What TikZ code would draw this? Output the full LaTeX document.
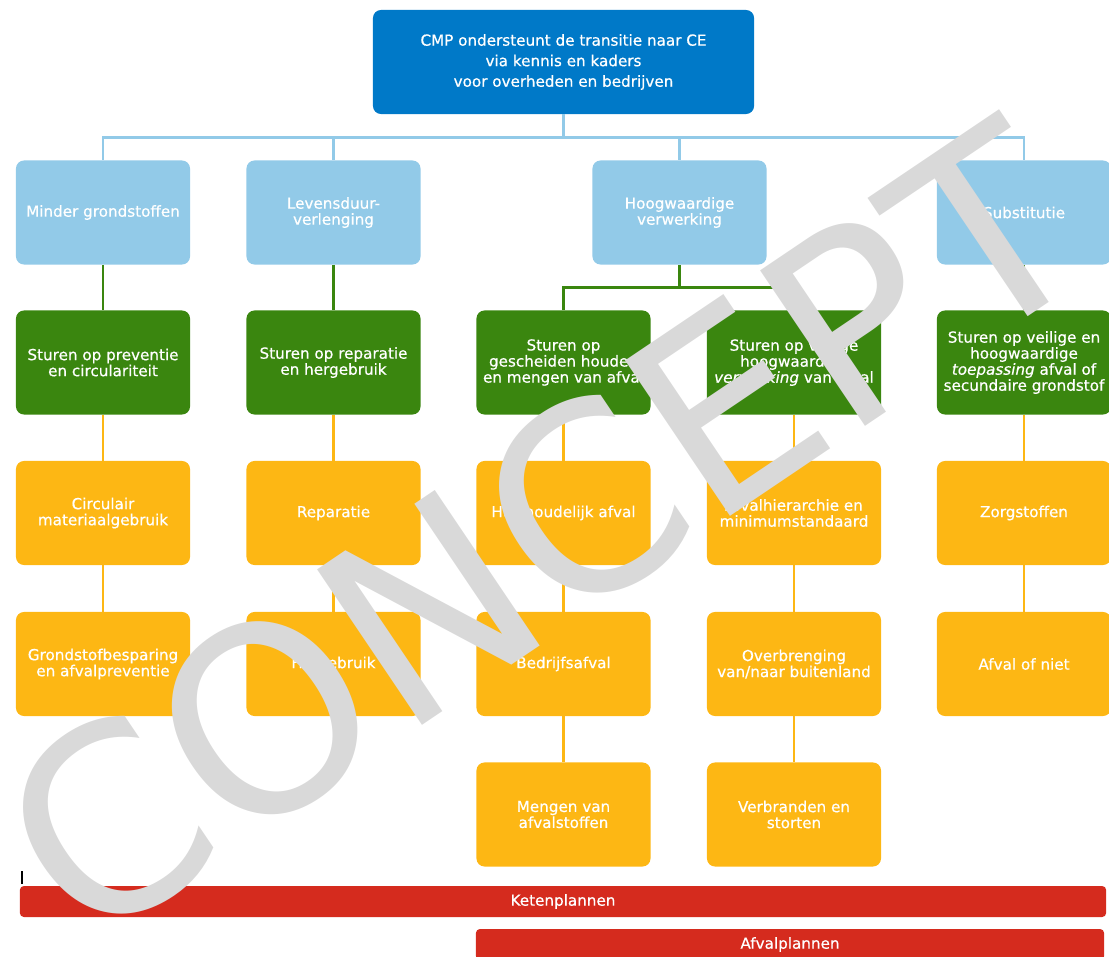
\documentclass[tikz,border=0pt]{standalone}
\usepackage{fontspec}
\setmainfont{DejaVu Sans}[FakeBold=0.6]
\newfontfamily\watermerkfont{DejaVu Sans}

\definecolor{cmpblauw}{RGB}{0,121,200}
\definecolor{lichtblauw}{RGB}{146,202,232}
\definecolor{groen}{RGB}{58,134,15}
\definecolor{oranje}{RGB}{253,183,20}
\definecolor{rood}{RGB}{213,43,30}
\definecolor{watermerk}{RGB}{217,217,217}

\begin{document}
\begin{tikzpicture}[x=0.025cm,y=-0.025cm,
    blok/.style={rounded corners=0.2cm, minimum width=4.35cm, minimum height=2.6cm,
        inner sep=0pt, align=center, text=white, font=\fontsize{10.8}{11.4}\selectfont},
    hoofd/.style={blok, fill=cmpblauw, minimum width=9.525cm, font=\fontsize{10.8}{14.6}\selectfont},
    thema/.style={blok, fill=lichtblauw},
    sturen/.style={blok, fill=groen},
    instr/.style={blok, fill=oranje},
    plan/.style={rounded corners=0.1cm, fill=rood, text=white, inner sep=0pt,
        minimum height=0.775cm, font=\fontsize{10.8}{11.4}\selectfont},
    lijn/.style={line width=1.9pt}]
    \useasboundingbox (0,0) rectangle (1109,957);

    % kop
    \node[hoofd] (cmp) at (563.5,62) {CMP ondersteunt de transitie naar CE\\via kennis en kaders\\voor overheden en bedrijven};

    % thema's
    \node[thema] (minder) at (103,212.5) {Minder grondstoffen};
    \node[thema] (levensduur) at (333.5,212.5) {Levensduur-\\verlenging};
    \node[thema] (hoogwaardig) at (679.5,212.5) {Hoogwaardige\\verwerking};
    \node[thema] (substitutie) at (1024,212.5) {Substitutie};

    % sturen op
    \node[sturen] (preventie) at (103,362.5) {Sturen op preventie\\en circulariteit};
    \node[sturen] (reparatie) at (333.5,362.5) {Sturen op reparatie\\en hergebruik};
    \node[sturen] (gescheiden) at (563.5,362.5) {Sturen op\\gescheiden houden\\en mengen van afval};
    \node[sturen] (verwerking) at (794,362.5) {Sturen op veilige\\hoogwaardige\\\textit{verwerking} van afval};
    \node[sturen] (toepassing) at (1024,362.5) {Sturen op veilige en\\hoogwaardige\\\textit{toepassing} afval of\\secundaire grondstof};

    % instrumenten
    \node[instr] (circulair) at (103,513) {Circulair\\materiaalgebruik};
    \node[instr] (besparing) at (103,664) {Grondstofbesparing\\en afvalpreventie};
    \node[instr] (repareren) at (333.5,513) {Reparatie};
    \node[instr] (hergebruik) at (333.5,664) {Hergebruik};
    \node[instr] (huishoudelijk) at (563.5,513) {Huishoudelijk afval};
    \node[instr] (bedrijfsafval) at (563.5,664) {Bedrijfsafval};
    \node[instr] (mengen) at (563.5,814.5) {Mengen van\\afvalstoffen};
    \node[instr] (hierarchie) at (794,513) {Afvalhierarchie en\\minimumstandaard};
    \node[instr] (overbrenging) at (794,664) {Overbrenging\\van/naar buitenland};
    \node[instr] (verbranden) at (794,814.5) {Verbranden en\\storten};
    \node[instr] (zorgstoffen) at (1024,513) {Zorgstoffen};
    \node[instr] (afvalofniet) at (1024,664) {Afval of niet};

    % plannen
    \node[plan, minimum width=27.15cm] (keten) at (563,901.5) {Ketenplannen};
    \node[plan, minimum width=15.7cm] (afvalplan) at (790,944.5) {Afvalplannen};
    \draw[line width=0.8pt] (22,871) -- (22,884);

    % lijnen
    \draw[lijn, lichtblauw] (cmp.south) -- ++(0,23) coordinate (splits);
    \foreach \t in {minder,levensduur,hoogwaardig,substitutie}
        \draw[lijn, lichtblauw] (splits) -| (\t.north);
    \draw[lijn, groen] (minder) -- (preventie);
    \draw[lijn, groen] (levensduur) -- (reparatie);
    \draw[lijn, groen] (substitutie) -- (toepassing);
    \draw[lijn, groen] (hoogwaardig.south) -- ++(0,23) coordinate (splitsgroen);
    \draw[lijn, groen] (splitsgroen) -| (gescheiden.north);
    \draw[lijn, groen] (splitsgroen) -| (verwerking.north);
    \foreach \a/\b in {preventie/circulair, circulair/besparing, reparatie/repareren,
        repareren/hergebruik, gescheiden/huishoudelijk, huishoudelijk/bedrijfsafval,
        bedrijfsafval/mengen, verwerking/hierarchie, hierarchie/overbrenging,
        overbrenging/verbranden, toepassing/zorgstoffen, zorgstoffen/afvalofniet}
        \draw[lijn, oranje] (\a) -- (\b);

    % watermerk
    \node[anchor=base, rotate=34, text=watermerk, inner sep=0pt,
        font=\watermerkfont\fontsize{183}{183}\selectfont] (concept) at (594,609) {CONCEPT};
\end{tikzpicture}
\end{document}
